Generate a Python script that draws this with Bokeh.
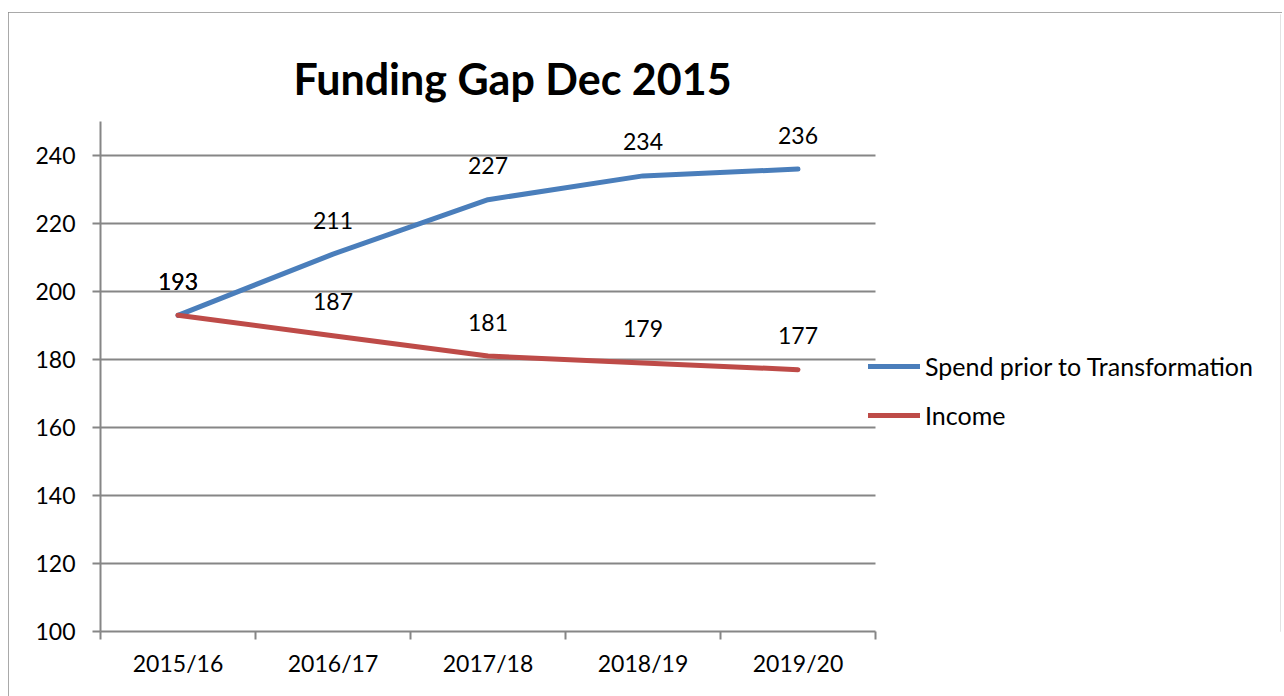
from bokeh.plotting import figure
from bokeh.models import (Range1d, FixedTicker, Label, Legend, LegendItem, ColumnDataSource)
from bokeh.embed import file_html
from bokeh.resources import INLINE
from bokeh.core.properties import value

# ---- data ----
categories = ["2015/16", "2016/17", "2017/18", "2018/19", "2019/20"]
spend = [193, 211, 227, 234, 236]
income = [193, 187, 181, 179, 177]
y_ticks = [100, 120, 140, 160, 180, 200, 220, 240]
title_text = "Funding Gap Dec 2015"
series_names = ["Spend prior to Transformation", "Income"]
colors = ["#4A7EBB", "#BE4B48"]

FONT = "Lato"
GRID = "#868686"
n = len(categories)
xs = [i + 0.5 for i in range(n)]

# plot area: 155 px per category, 3.4 px per unit; frame extended to the right/top
p = figure(width=1274, height=684, output_backend="svg", toolbar_location=None,
           x_range=Range1d(0, 1180 / 155), y_range=Range1d(100, 100 + 617 / 3.4),
           min_border_left=92, min_border_right=2, min_border_top=2, min_border_bottom=65)
p.styles = {"margin-left": "8px", "margin-top": "12px",
            "outline": "2px solid #8c8c8c", "outline-offset": "-2px"}
p.outline_line_color = None
p.background_fill_color = "white"
p.border_fill_color = "white"

# axes
p.xaxis.ticker = FixedTicker(ticks=xs, minor_ticks=list(range(n + 1)))
p.xaxis.bounds = (0, n)
p.xaxis.major_label_overrides = {x: c for x, c in zip(xs, categories)}
p.xaxis.major_tick_line_color = None
p.xaxis.minor_tick_line_color = GRID
p.xaxis.minor_tick_line_width = 2
p.xaxis.minor_tick_out = 8
p.xaxis.minor_tick_in = 0
p.xaxis.axis_line_color = GRID
p.xaxis.axis_line_width = 2
p.xaxis.major_label_text_font = FONT
p.xaxis.major_label_text_font_size = "23px"
p.xaxis.major_label_text_color = "black"
p.xaxis.major_label_standoff = 9

p.yaxis.ticker = FixedTicker(ticks=y_ticks)
p.yaxis.bounds = (100, 250)
p.yaxis.major_tick_line_color = GRID
p.yaxis.major_tick_line_width = 2
p.yaxis.major_tick_out = 8
p.yaxis.major_tick_in = 0
p.yaxis.minor_tick_line_color = None
p.yaxis.axis_line_color = GRID
p.yaxis.axis_line_width = 2
p.yaxis.major_label_text_font = FONT
p.yaxis.major_label_text_font_size = "23px"
p.yaxis.major_label_text_color = "black"
p.yaxis.major_label_standoff = 17

p.xgrid.grid_line_color = None
p.ygrid.ticker = FixedTicker(ticks=y_ticks)
p.ygrid.cross_bounds = (0, n)
p.ygrid.grid_line_color = GRID
p.ygrid.grid_line_width = 2

# lines
r1 = p.line(xs, spend, line_color=colors[0], line_width=5, line_cap="round", line_join="round")
r2 = p.line(xs, income, line_color=colors[1], line_width=5, line_cap="round", line_join="round")

# data labels
for vals in (income, spend):
    src = ColumnDataSource(dict(x=xs, y=vals, t=[str(v) for v in vals]))
    p.text(x="x", y="y", text="t", source=src, y_offset=-34, text_align="center",
           text_baseline="middle", text_font=value(FONT), text_font_size="23px",
           text_color="black")

# title
p.add_layout(Label(x=412 / 155, y=100 + 553 / 3.4, text=title_text, text_align="center",
                   text_baseline="middle", text_font=FONT, text_font_size="43px",
                   text_font_style="bold", text_color="black"))

legend = Legend(items=[LegendItem(label=series_names[0], renderers=[r1]),
                       LegendItem(label=series_names[1], renderers=[r2])],
                location=(768, 201), orientation="vertical",
                glyph_width=52, glyph_height=20, label_height=20, spacing=19,
                padding=0, margin=0, label_standoff=5,
                label_text_font=FONT, label_text_font_size="25px",
                label_text_color="black",
                background_fill_alpha=0, border_line_color=None)
p.add_layout(legend, "center")

open("out.html", "w").write(file_html(p, INLINE))
